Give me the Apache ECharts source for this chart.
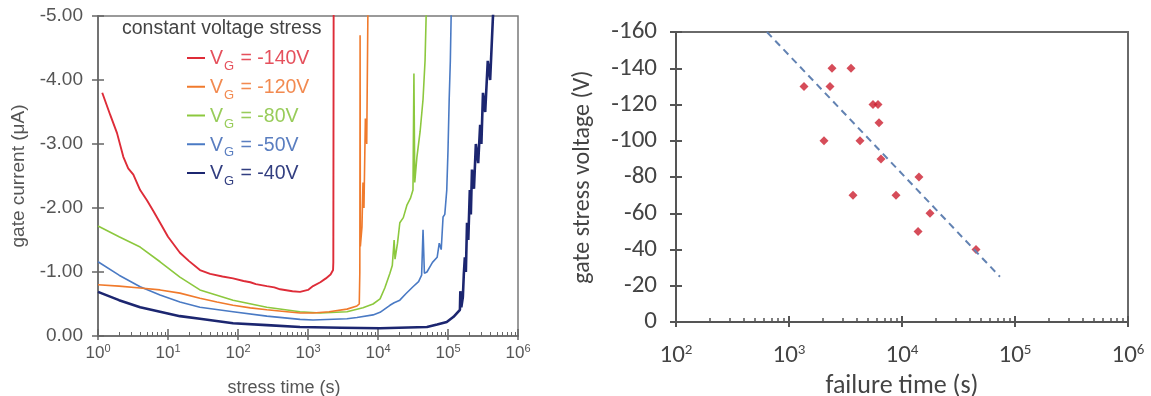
<!DOCTYPE html>
<html>
<head>
<meta charset="utf-8">
<script src="https://cdn.jsdelivr.net/npm/echarts@6/dist/echarts.min.js"></script>
<style>html,body{margin:0;padding:0;background:#fff}#c{width:1151px;height:396px}</style>
</head>
<body>
<div id="c"></div>
<script>
// ---------- Left panel: gate current vs stress time ----------
const seriesNames = ['VG = -140V', 'VG = -120V', 'VG = -80V', 'VG = -50V', 'VG = -40V'];
const tRed = [1.15,1.5,1.87,2.3,2.7,3.2,4,5,6.2,7.7,10,14.8,20,28.6,40,60,85,120,150,180,258,330,400,600,770,1000,1180,1500,1800,2100,2280,2300,2330];
const iRed = [-3.80,-3.45,-3.17,-2.80,-2.62,-2.52,-2.28,-2.12,-1.95,-1.77,-1.55,-1.30,-1.17,-1.03,-0.97,-0.93,-0.90,-0.86,-0.84,-0.81,-0.78,-0.76,-0.73,-0.70,-0.69,-0.72,-0.78,-0.84,-0.90,-0.96,-1.03,-1.15,-6];
const tOrange = [1,2,4,7.7,14.8,28.6,50,85,150,258,500,770,1180,2000,3600,5000,5400,5500,5550,5600,5900,6100,6300,6600,6900,7100,7300];
const iOrange = [-0.80,-0.78,-0.75,-0.72,-0.67,-0.59,-0.53,-0.48,-0.44,-0.41,-0.38,-0.36,-0.36,-0.38,-0.42,-0.47,-0.50,-1.00,-4.70,-1.40,-1.70,-2.40,-2.00,-3.40,-3.00,-4.50,-6];
const tGreen = [1,2,4,7.7,14.8,28.6,85,258,770,1500,3600,6100,8500,10700,12500,14800,16000,17000,17500,19000,20500,23000,26000,29000,31600,32600,33500,36000,40000,44000,47000,50000];
const iGreen = [-1.72,-1.55,-1.39,-1.16,-0.92,-0.72,-0.56,-0.45,-0.38,-0.36,-0.38,-0.44,-0.50,-0.58,-0.75,-0.98,-1.10,-1.50,-1.20,-1.45,-1.77,-1.85,-2.05,-2.15,-2.28,-4.10,-2.40,-2.80,-3.20,-3.70,-4.30,-5.50];
const tBlue = [1,2,4,7.7,14.8,28.6,85,258,770,1180,3600,5000,8500,10700,14800,17000,20500,25000,31600,38000,42000,44000,46000,50000,60000,70000,75000,80000,85000,90000,96000,100000,104000,108000,113000];
const iBlue = [-1.16,-0.95,-0.77,-0.64,-0.53,-0.45,-0.38,-0.31,-0.26,-0.25,-0.27,-0.29,-0.33,-0.37,-0.48,-0.52,-0.56,-0.66,-0.77,-0.85,-0.95,-1.66,-0.98,-1.00,-1.15,-1.23,-1.45,-1.35,-1.86,-1.90,-2.28,-2.90,-3.70,-4.30,-5.50];
const tNavy = [1,2,4,7.7,14.8,28.6,85,258,770,3000,10700,50000,70000,96000,120000,148000,150000,155000,163000,168000,174000,180000,187000,195000,205000,212000,220000,235000,250000,270000,288000,300000,316000,340000,370000,400000,437000,470000];
const iNavy = [-0.69,-0.56,-0.45,-0.38,-0.31,-0.27,-0.20,-0.17,-0.14,-0.13,-0.12,-0.14,-0.18,-0.22,-0.30,-0.41,-0.70,-0.45,-0.61,-0.95,-1.23,-1.00,-1.77,-1.50,-2.28,-1.90,-2.60,-2.30,-3.00,-2.70,-3.30,-3.00,-3.80,-3.50,-4.30,-4.00,-4.95,-5.60];
const lineColors = ['#de2c38', '#f07a2c', '#8cc83e', '#4a7ac4', '#1c2670'];
const legendTextColors = ['#e5505c', '#f28a50', '#98cc5a', '#5a7ec0', '#323e80'];

// ---------- Right panel: failure time vs gate stress voltage ----------
const failTime = [1358, 2305, 2402, 3538, 2040, 4249, 5537, 6132, 6255, 6519, 14130, 3684, 8850, 17700, 13870, 45200];
const stressV = [-130, -130, -140, -140, -100, -100, -120, -120, -110, -90, -80, -70, -70, -60, -50, -40];
const fitTime = [638, 73600];
const fitV = [-160, -25];

// minor tick positions (log10 of 2..9 x 10^k) for tick-only overlay axes
function minorLog(fromExp, toExp) {
  const out = [];
  for (let e = fromExp; e < toExp; e++) for (let k = 2; k <= 9; k++) out.push(e + Math.log10(k));
  return out;
}
const zip = (a, b) => a.map((v, i) => [v, b[i]]);

const LF = 'Liberation Sans, Arial, sans-serif';
const RF = 'Carlito, Lato, sans-serif';
const leftGrid = { left: 98, top: 16, width: 420, height: 320, outerBoundsMode: 'none', containLabel: false };
const rightGrid = { left: 676, top: 32, width: 452, height: 290, outerBoundsMode: 'none', containLabel: false };

const expFmt = v => '{b|10}{s|' + Math.round(Math.log10(v)) + '}';
const hiddenLine = { show: false, onZero: false };

const chart = echarts.init(document.getElementById('c'), null, { renderer: 'canvas' });
const tsData = [zip(tRed, iRed), zip(tOrange, iOrange), zip(tGreen, iGreen), zip(tBlue, iBlue), zip(tNavy, iNavy)];

chart.setOption({
  animation: false,
  backgroundColor: '#fff',
  title: {
    text: 'constant voltage stress', left: 122, top: 19, padding: 0,
    textStyle: { fontFamily: LF, fontSize: 19.5, fontWeight: 'normal', color: '#444' }
  },
  legend: {
    orient: 'vertical', left: 187, top: 47, itemGap: 2.75, padding: 0,
    itemWidth: 18, itemHeight: 2, icon: 'rect', selectedMode: false,
    data: seriesNames.map((n, i) => ({ name: n, textStyle: { color: legendTextColors[i] } })),
    formatter: n => '{v|V}{s|G}{v|' + n.slice(2) + '}',
    textStyle: {
      fontFamily: LF,
      rich: {
        v: { fontFamily: LF, fontSize: 19.5, lineHeight: 22, padding: [2, 0, 0, 0], verticalAlign: 'top' },
        s: { fontFamily: LF, fontSize: 13, lineHeight: 12, padding: [13, 1, 0, 1], verticalAlign: 'top' }
      }
    }
  },
  grid: [
    Object.assign({ show: true, borderColor: '#7a7a7a', borderWidth: 1.5 }, leftGrid),
    Object.assign({}, leftGrid),
    Object.assign({}, leftGrid),
    Object.assign({ show: true, borderColor: '#6a6a6a', borderWidth: 2 }, rightGrid),
    Object.assign({}, rightGrid),
    Object.assign({}, rightGrid)
  ],
  xAxis: [
    { gridIndex: 0, type: 'log', logBase: 10, min: 1, max: 1e6,
      name: 'stress time (s)', nameLocation: 'middle', nameGap: 43,
      nameTextStyle: { fontFamily: LF, fontSize: 18, color: '#555', padding: [0, 48, 0, 0] },
      axisLine: { onZero: false, lineStyle: { color: '#666', width: 1.5 } },
      axisTick: { inside: false, length: 4, lineStyle: { color: '#666', width: 1.5 } },
      splitLine: { show: false },
      axisLabel: { formatter: expFmt, margin: 7, color: '#555',
        rich: { b: { fontFamily: LF, fontSize: 17, lineHeight: 20, color: '#555' },
                s: { fontFamily: LF, fontSize: 11, lineHeight: 11, verticalAlign: 'top', color: '#555' } } } },
    { gridIndex: 1, type: 'log', logBase: 10, min: 1, max: 1e6, position: 'bottom',
      axisLine: hiddenLine, axisLabel: { show: false }, splitLine: { show: false },
      axisTick: { inside: true, length: 7, lineStyle: { color: '#666', width: 1.5 } } },
    { gridIndex: 2, type: 'value', min: 0, max: 6, position: 'bottom',
      axisLine: hiddenLine, axisLabel: { show: false }, splitLine: { show: false },
      axisTick: { inside: true, length: 4, customValues: minorLog(0, 6), lineStyle: { color: '#666', width: 1 } } },
    { gridIndex: 3, type: 'log', logBase: 10, min: 100, max: 1e6,
      name: 'failure time (s)', nameLocation: 'middle', nameGap: 44,
      nameTextStyle: { fontFamily: RF, fontSize: 26, color: '#444' },
      axisLine: { onZero: false, lineStyle: { color: '#555', width: 2 } },
      axisTick: { inside: false, length: 5, lineStyle: { color: '#555', width: 2 } },
      splitLine: { show: false },
      axisLabel: { formatter: expFmt, margin: 21, color: '#444',
        rich: { b: { fontFamily: RF, fontSize: 25, lineHeight: 26, color: '#444' },
                s: { fontFamily: RF, fontSize: 15, lineHeight: 15, verticalAlign: 'top', color: '#444' } } } },
    { gridIndex: 4, type: 'log', logBase: 10, min: 100, max: 1e6, position: 'bottom',
      axisLine: hiddenLine, axisLabel: { show: false }, splitLine: { show: false },
      axisTick: { inside: true, length: 6, lineStyle: { color: '#555', width: 2 } } },
    { gridIndex: 5, type: 'value', min: 2, max: 6, position: 'bottom',
      axisLine: hiddenLine, axisLabel: { show: false }, splitLine: { show: false },
      axisTick: { inside: true, length: 4, customValues: minorLog(2, 6), lineStyle: { color: '#555', width: 1.5 } } }
  ],
  yAxis: [
    { gridIndex: 0, type: 'value', min: -5, max: 0, interval: 1, inverse: true,
      name: 'gate current (\u03bcA)', nameLocation: 'middle', nameGap: 70, nameRotate: 90,
      nameTextStyle: { fontFamily: LF, fontSize: 19, color: '#555' },
      axisLine: { show: true, onZero: false, lineStyle: { color: '#666', width: 1.5 } },
      axisTick: { show: true, inside: false, length: 6, lineStyle: { color: '#666', width: 1.5 } },
      splitLine: { show: false },
      axisLabel: { formatter: v => v.toFixed(2), margin: 15, fontFamily: LF, fontSize: 19, color: '#555' } },
    { gridIndex: 1, type: 'value', min: -5, max: 0, interval: 1, inverse: true, position: 'left',
      axisLine: hiddenLine, axisLabel: { show: false }, splitLine: { show: false },
      axisTick: { show: true, inside: true, length: 6, lineStyle: { color: '#666', width: 1.5 } } },
    { gridIndex: 2, type: 'value', min: -5, max: 0, inverse: true, show: false },
    { gridIndex: 3, type: 'value', min: -160, max: 0, interval: 20, inverse: true,
      name: 'gate stress voltage (V)', nameLocation: 'middle', nameGap: 81, nameRotate: 90,
      nameTextStyle: { fontFamily: RF, fontSize: 24, color: '#444' },
      axisLine: { show: true, onZero: false, lineStyle: { color: '#555', width: 2 } },
      axisTick: { show: true, inside: false, length: 6, lineStyle: { color: '#555', width: 2 } },
      splitLine: { show: false },
      axisLabel: { margin: 19, fontFamily: RF, fontSize: 25, color: '#444' } },
    { gridIndex: 4, type: 'value', min: -160, max: 0, interval: 20, inverse: true, position: 'left',
      axisLine: hiddenLine, axisLabel: { show: false }, splitLine: { show: false },
      axisTick: { show: true, inside: true, length: 6, lineStyle: { color: '#555', width: 2 } } },
    { gridIndex: 5, type: 'value', min: -160, max: 0, inverse: true, show: false }
  ],
  series: seriesNames.map((n, i) => ({
    name: n, type: 'line', xAxisIndex: 0, yAxisIndex: 0,
    data: tsData[i], showSymbol: false, symbol: 'none', clip: true,
    color: lineColors[i],
    lineStyle: { color: lineColors[i], width: i === 4 ? 2.6 : (i === 0 ? 1.9 : 1.6) },
    z: 10 - i
  })).concat([
    { name: 'fit', type: 'line', xAxisIndex: 3, yAxisIndex: 3,
      data: zip(fitTime, fitV), showSymbol: false, symbol: 'none',
      lineStyle: { color: '#6282b2', width: 2, type: [7, 5] } },
    { name: 'failures', type: 'scatter', xAxisIndex: 3, yAxisIndex: 3,
      data: zip(failTime, stressV), symbol: 'diamond', symbolSize: 9,
      itemStyle: { color: '#cc1f30' } }
  ])
});
</script>
</body>
</html>
